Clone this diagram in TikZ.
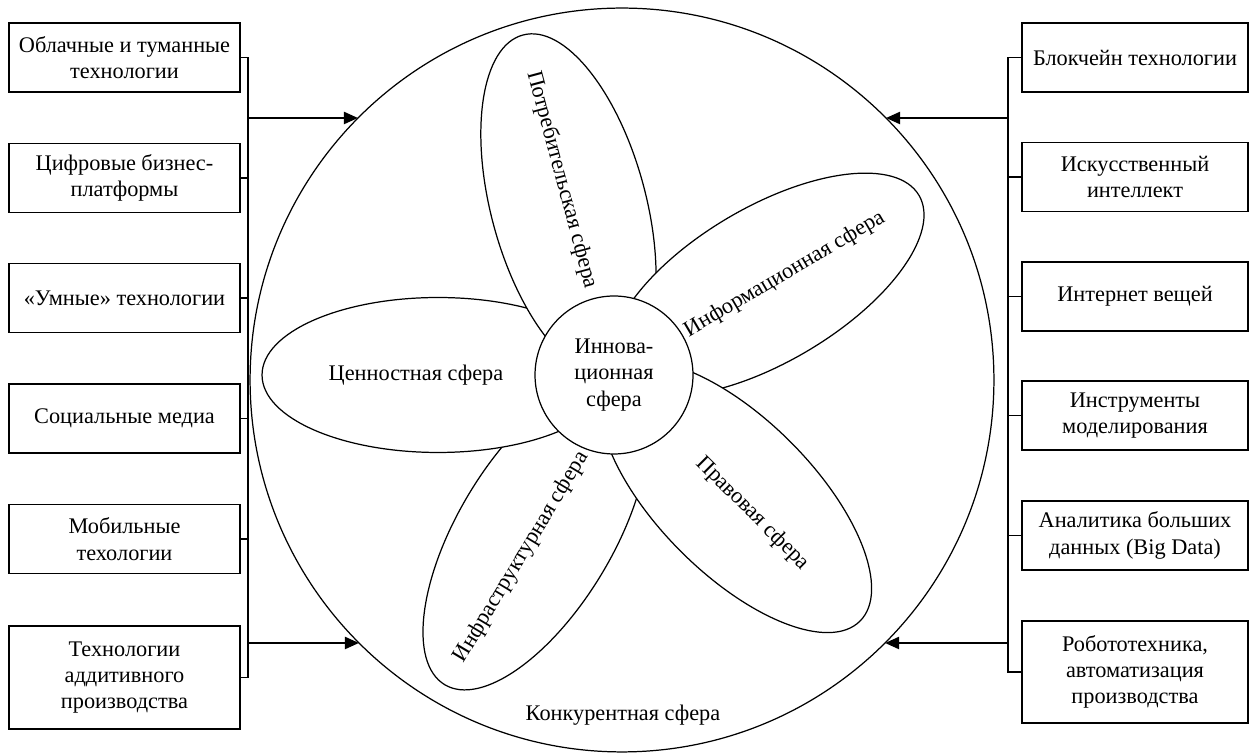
\documentclass[tikz,border=0pt]{standalone}
\usepackage{fontspec}
\setmainfont{Liberation Serif}
\usetikzlibrary{arrows.meta,shapes.geometric,calc}
\begin{document}
\begin{tikzpicture}[x=0.02cm,y=0.02cm,
  txt/.style={font=\fontsize{12.7pt}{15pt}\selectfont},
  tbox/.style={draw,line width=0.9pt,minimum width=4.62cm,minimum height=1.38cm,align=center,inner sep=1pt,txt},
  rbox/.style={tbox,minimum width=4.52cm},
  petal/.style={draw,fill=white,ellipse,line width=0.7pt,minimum width=7.04cm,minimum height=3.1cm,inner sep=0pt,outer sep=0pt},
  ptext/.style={txt,inner sep=0pt},
  conn/.style={line width=0.9pt},
  arr/.style={conn,-{Triangle[length=8pt,width=7pt]}}
]
\useasboundingbox (0,0) rectangle (1251,753);

% big circle
\node[draw,circle,line width=0.7pt,minimum size=14.88cm,inner sep=0pt,outer sep=0pt] (big) at (622,373) {};
\node[txt] (konk) at (623,38) {Конкурентная сфера};

% small centre
\coordinate (sc) at (614,378);
\coordinate (sci) at (626,370);

% petals (bottom to top)
\node[petal,rotate=59] (infra) at ($(sci)+(239:176)$) {};
\node[ptext,rotate=59] (infrat) at ($(sci)+(239:203)$) {Инфраструктурная сфера};
\node[petal] (cenn) at ($(sc)+(180:176)$) {};
\node[ptext] (cennt) at ($(sc)+(180:198)$) {Ценностная сфера};
\node[petal,rotate=105] (potr) at ($(sc)+(105:176)$) {};
\node[ptext,rotate=-75] (potrt) at ($(sc)+(105:202)$) {Потребительская сфера};
\node[petal,rotate=30.5] (info) at ($(sc)+(30.5:178)$) {};
\node[ptext,rotate=30.5] (infot) at ($(sc)+(30.5:198)$) {Информационная сфера};
\node[petal,rotate=-45] (prav) at ($(sc)+(-45:172)$) {};
\node[ptext,rotate=-45] (pravt) at ($(sc)+(-45:196)$) {Правовая сфера};

\node[draw,fill=white,circle,line width=0.7pt,minimum size=3.16cm,inner sep=0pt,align=center,txt] (inn) at (sc) {Иннова-\\ционная\\сфера};

% left boxes
\node[tbox] (L1) at (124.5,695.5) {Облачные и туманные\\технологии};
\node[tbox] (L2) at (124.5,575) {Цифровые бизнес-\\платформы};
\node[tbox] (L3) at (124.5,455) {«Умные» технологии};
\node[tbox] (L4) at (124.5,334.5) {Социальные медиа};
\node[tbox] (L5) at (124.5,214) {Мобильные\\техологии};
\node[tbox,minimum height=2.06cm] (L6) at (124.5,75.5) {Технологии\\аддитивного\\производства};

% right boxes
\node[rbox] (R1) at (1135,695.5) {Блокчейн технологии};
\node[rbox] (R2) at (1135,576) {Искусственный\\интеллект};
\node[rbox] (R3) at (1135,456.5) {Интернет вещей};
\node[rbox] (R4) at (1135,337.5) {Инструменты\\моделирования};
\node[rbox] (R5) at (1135,217.5) {Аналитика больших\\данных (Big Data)};
\node[rbox,minimum height=2.04cm] (R6) at (1135,81) {Робототехника,\\автоматизация\\производства};

% buses
\coordinate (lb) at (248,0);
\coordinate (rb) at (1008,0);
\draw[conn] (L1.east) -- (L1.east -| lb) -- (L6.east -| lb) -- (L6.east);
\foreach \k in {2,3,4,5} \draw[conn] (L\k.east) -- (L\k.east -| lb);
\draw[conn] (R1.west) -- (R1.west -| rb) -- (R6.west -| rb) -- (R6.west);
\foreach \k in {2,3,4,5} \draw[conn] (R\k.west) -- (R\k.west -| rb);

% arrows
\coordinate (la1) at (248,635);
\coordinate (la2) at (248,110);
\coordinate (ra1) at (1008,635);
\coordinate (ra2) at (1008,110);
\coordinate (lt1) at ($(big.center)+(-264.1,262)$);
\coordinate (lt2) at ($(big.center)+(-263.1,-263)$);
\coordinate (rt1) at ($(big.center)+(264.1,262)$);
\coordinate (rt2) at ($(big.center)+(263.1,-263)$);
\draw[arr] (la1) -- (la1 -| lt1);
\draw[arr] (la2) -- (la2 -| lt2);
\draw[arr] (ra1) -- (ra1 -| rt1);
\draw[arr] (ra2) -- (ra2 -| rt2);
\end{tikzpicture}
\end{document}
